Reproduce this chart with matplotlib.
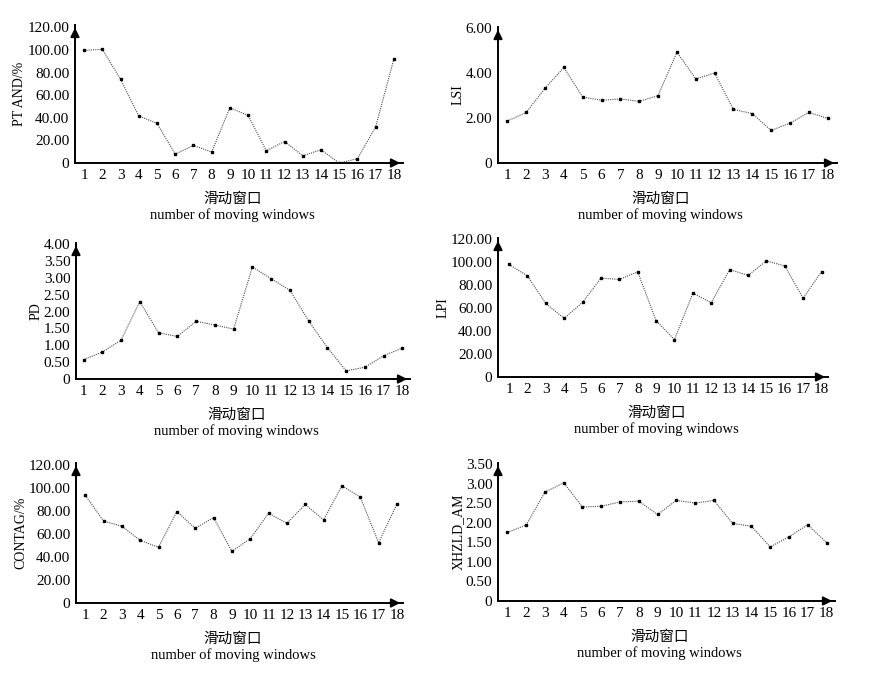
import numpy as np
import matplotlib
matplotlib.use("Agg")
import matplotlib.pyplot as plt

plt.rcParams['font.family'] = ['Liberation Serif', 'Noto Sans CJK SC']

windows = list(range(1, 19))

pt_and = [99.5, 100.5, 74.0, 41.6, 35.0, 7.9, 15.5, 9.7, 48.9, 42.0,
          10.8, 19.0, 6.4, 11.7, 0.0, 3.8, 32.0, 92.0]
lsi = [1.87, 2.25, 3.33, 4.25, 2.93, 2.79, 2.85, 2.74, 3.00, 4.93,
       3.74, 4.00, 2.38, 2.20, 1.45, 1.77, 2.25, 1.99]
pd_vals = [0.57, 0.80, 1.15, 2.29, 1.37, 1.26, 1.71, 1.60, 1.48, 3.32,
           2.97, 2.63, 1.72, 0.93, 0.24, 0.35, 0.69, 0.92]
lpi = [98.0, 88.0, 64.0, 51.0, 65.0, 86.0, 85.0, 91.5, 49.0, 32.6,
       73.0, 64.7, 93.5, 88.5, 101.0, 96.7, 68.5, 91.8]
contag = [93.6, 71.2, 66.6, 54.4, 48.3, 79.4, 64.8, 74.1, 44.8, 55.8,
          77.9, 69.2, 85.5, 72.1, 101.7, 91.9, 52.3, 86.0]
xhzld = [1.75, 1.94, 2.78, 3.02, 2.40, 2.42, 2.53, 2.55, 2.21, 2.57,
         2.50, 2.57, 1.98, 1.91, 1.38, 1.64, 1.95, 1.49]

series = [pt_and, lsi, pd_vals, lpi, contag, xhzld]
ylabels = ["PT AND/%", "LSI", "PD", "LPI", "CONTAG/%", "XHZLD_AM"]
yticks = [np.arange(0, 121, 20), np.arange(0, 6.1, 2), np.arange(0, 4.01, 0.5),
          np.arange(0, 121, 20), np.arange(0, 121, 20), np.arange(0, 3.51, 0.5)]
ytops = [122, 6.05, 4.03, 121, 121.5, 3.525]

# axes rectangles in pixels: left, right, y of origin, y of top
rects_px = [(75, 403, 163, 25), (498, 837, 163, 27),
            (76, 410, 379, 243), (498, 828, 377, 238),
            (76, 403, 603, 463), (498, 835, 601, 463)]
xlims = [(0.5, 18.5), (0.5, 18.5), (0.6, 18.4), (0.4, 18.35), (0.5, 18.33), (0.5, 18.45)]

W, H = 895, 673
fig = plt.figure(figsize=(W / 100, H / 100), dpi=100)

for i in range(6):
    l, r, b, t = rects_px[i]
    ax = fig.add_axes([l / W, (H - b) / H, (r - l) / W, (b - t) / H])
    ax.plot(windows, series[i], linestyle=(0, (1, 1)), color='0.3', linewidth=0.8,
            marker='s', markersize=2.0, markerfacecolor='k', markeredgecolor='k')
    ax.set_xlim(*xlims[i])
    ax.set_ylim(0, ytops[i])
    ax.set_xticks(windows)
    ax.set_yticks(yticks[i])
    ax.set_yticklabels(["0" if v == 0 else f"{v:.2f}" for v in yticks[i]])
    ax.tick_params(length=0, labelsize=11, pad=4)
    for s in ['top', 'right']:
        ax.spines[s].set_visible(False)
    for s in ['left', 'bottom']:
        ax.spines[s].set_linewidth(1.4)
    ax.annotate('', xy=(1.0, 0), xytext=(0.96, 0), xycoords='axes fraction',
                arrowprops=dict(arrowstyle='-|>', color='k', lw=1.4, mutation_scale=13),
                annotation_clip=False)
    ax.annotate('', xy=(0, 1.0), xytext=(0, 0.93), xycoords='axes fraction',
                arrowprops=dict(arrowstyle='-|>', color='k', lw=1.4, mutation_scale=13),
                annotation_clip=False)
    ax.set_ylabel(ylabels[i], fontsize=10, labelpad=1)
    ax.annotate("滑动窗口", xy=(0.48, 0), xycoords='axes fraction',
                xytext=(0, -36), textcoords='offset pixels', ha='center', va='center',
                fontsize=10.5, family=['Noto Sans CJK SC'])
    ax.annotate("number of moving windows", xy=(0.48, 0), xycoords='axes fraction',
                xytext=(0, -52), textcoords='offset pixels', ha='center', va='center',
                fontsize=10.5)

fig.savefig("out.png", dpi=100)
